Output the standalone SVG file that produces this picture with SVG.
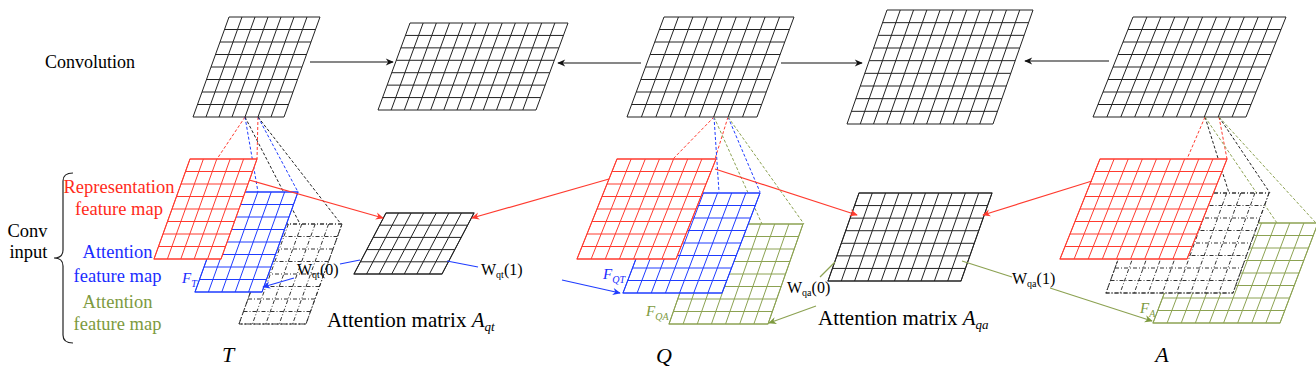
<svg xmlns="http://www.w3.org/2000/svg" xmlns:xlink="http://www.w3.org/1999/xlink" width="1316" height="377" viewBox="0 0 1316 377">
<style>
text{font-family:"Liberation Serif","Times New Roman",serif;fill:#000}
.gl{fill:none;stroke-width:1;vector-effect:non-scaling-stroke}
.k{stroke:#222}
.r{stroke:#ff3b2f}
.b{stroke:#1f3cff}
.g{stroke:#8ca252}
.dd{stroke:#333;stroke-dasharray:4 2 1 2}
.tr{fill:#ff2a1a}
.tb{fill:#1a2cff}
.tg{fill:#7d9a3e}
.it{font-style:italic}
.cn{fill:none;stroke-width:1.2}
.dash{fill:none;stroke-width:1;stroke-dasharray:3 2}
</style>
<defs>
<marker id="mk" viewBox="0 0 10 10" refX="9" refY="5" markerWidth="9" markerHeight="8" orient="auto" markerUnits="userSpaceOnUse"><path d="M0,0.5L10,5L0,9.5L3,5z" fill="#111"/></marker>
<marker id="mr" viewBox="0 0 10 10" refX="9" refY="5" markerWidth="9" markerHeight="8" orient="auto" markerUnits="userSpaceOnUse"><path d="M0,0.5L10,5L0,9.5L3,5z" fill="#ff3b2f"/></marker>
<marker id="mb" viewBox="0 0 10 10" refX="9" refY="5" markerWidth="9" markerHeight="8" orient="auto" markerUnits="userSpaceOnUse"><path d="M0,0.5L10,5L0,9.5L3,5z" fill="#1f3cff"/></marker>
<marker id="mg" viewBox="0 0 10 10" refX="9" refY="5" markerWidth="9" markerHeight="8" orient="auto" markerUnits="userSpaceOnUse"><path d="M0,0.5L10,5L0,9.5L3,5z" fill="#7d9a3e"/></marker>
<g id="gT"><rect width="67" height="100" fill="#fff"/><path class="gl" d="M0,0H67M0,12.5H67M0,25H67M0,37.5H67M0,50H67M0,62.5H67M0,75H67M0,87.5H67M0,100H67M0,0V100M13.4,0V100M26.8,0V100M40.2,0V100M53.6,0V100M67,0V100"/></g>
<g id="gQ"><rect width="99" height="100" fill="#fff"/><path class="gl" d="M0,0H99M0,12.5H99M0,25H99M0,37.5H99M0,50H99M0,62.5H99M0,75H99M0,87.5H99M0,100H99M0,0V100M14.14,0V100M28.29,0V100M42.43,0V100M56.57,0V100M70.71,0V100M84.86,0V100M99,0V100"/></g>
<g id="gA"><rect width="127" height="100" fill="#fff"/><path class="gl" d="M0,0H127M0,12.5H127M0,25H127M0,37.5H127M0,50H127M0,62.5H127M0,75H127M0,87.5H127M0,100H127M0,0V100M14.11,0V100M28.22,0V100M42.33,0V100M56.44,0V100M70.56,0V100M84.67,0V100M98.78,0V100M112.89,0V100M127,0V100"/></g>
</defs>
<rect width="1316" height="377" fill="#fff"/>

<text x="45" y="68" font-size="18">Convolution</text>

<g id="conv-T" class="k"><path class="gl" transform="matrix(1 0 -0.36 1 229 17)" d="M0,0H91M0,12.5H91M0,25H91M0,37.5H91M0,50H91M0,62.5H91M0,75H91M0,87.5H91M0,100H91M0,0V100M13,0V100M26,0V100M39,0V100M52,0V100M65,0V100M78,0V100M91,0V100"/></g>
<g id="conv-TQ" class="k"><path class="gl" transform="matrix(1 0 -0.3678 1 410 23)" d="M0,0H158M0,12.43H158M0,24.86H158M0,37.29H158M0,49.71H158M0,62.14H158M0,74.57H158M0,87H158M0,0V87M13.17,0V87M26.33,0V87M39.5,0V87M52.67,0V87M65.83,0V87M79,0V87M92.17,0V87M105.33,0V87M118.5,0V87M131.67,0V87M144.83,0V87M158,0V87"/></g>
<g id="conv-Q" class="k"><path class="gl" transform="matrix(1 0 -0.37 1 664 17)" d="M0,0H130M0,12.5H130M0,25H130M0,37.5H130M0,50H130M0,62.5H130M0,75H130M0,87.5H130M0,100H130M0,0V100M14.44,0V100M28.89,0V100M43.33,0V100M57.78,0V100M72.22,0V100M86.67,0V100M101.11,0V100M115.56,0V100M130,0V100"/></g>
<g id="conv-QA" class="k"><path class="gl" transform="matrix(1 0 -0.3509 1 887 10)" d="M0,0H146M0,12.67H146M0,25.33H146M0,38H146M0,50.67H146M0,63.33H146M0,76H146M0,88.67H146M0,101.33H146M0,114H146M0,0V114M13.27,0V114M26.55,0V114M39.82,0V114M53.09,0V114M66.36,0V114M79.64,0V114M92.91,0V114M106.18,0V114M119.45,0V114M132.73,0V114M146,0V114"/></g>
<g id="conv-A" class="k"><path class="gl" transform="matrix(1 0 -0.4 1 1133 17)" d="M0,0H153M0,12.5H153M0,25H153M0,37.5H153M0,50H153M0,62.5H153M0,75H153M0,87.5H153M0,100H153M0,0V100M13.91,0V100M27.82,0V100M41.73,0V100M55.64,0V100M69.55,0V100M83.45,0V100M97.36,0V100M111.27,0V100M125.18,0V100M139.09,0V100M153,0V100"/></g>

<g id="connectors">
<path class="cn" stroke="#111" marker-end="url(#mk)" d="M310,62H393"/>
<path class="cn" stroke="#111" marker-end="url(#mk)" d="M641,63H558"/>
<path class="cn" stroke="#111" marker-end="url(#mk)" d="M781,63H862"/>
<path class="cn" stroke="#111" marker-end="url(#mk)" d="M1109,61H1025"/>
<path class="dash r" d="M245,117L217,159M258,117L257,159"/>
<path class="dash b" d="M245,117L258,192M258,117L298,192"/>
<path class="dash k" d="M245,117L300,224M258,117L341,224"/>
<path class="dash r" d="M714,117L673,159M728,117L715,159"/>
<path class="dash b" d="M714,117L719,192M728,117L760,192"/>
<path class="dash g" d="M714,117L762,224M728,117L804,224"/>
<path class="dash r" d="M1205,117L1187,159M1219,117L1227,159"/>
<path class="dash k" d="M1205,117L1229,193M1219,117L1270,193"/>
<path class="dash g" d="M1205,117L1277,223M1219,117L1316,223"/>
</g>

<g id="map-T-att2"><use xlink:href="#gT" class="dd" transform="matrix(1 0 -0.36 1 275 224)"/></g>
<g id="map-T-att"><use xlink:href="#gT" class="b" transform="matrix(1 0 -0.36 1 231 192)"/></g>
<g id="map-T-rep"><use xlink:href="#gT" class="r" transform="matrix(1 0 -0.36 1 190 159)"/></g>

<g id="map-Q-att2"><use xlink:href="#gQ" class="g" transform="matrix(1 0 -0.35 1 704 224)"/></g>
<g id="map-Q-att"><use xlink:href="#gQ" class="b" transform="matrix(1 0 -0.38 1 661 193)"/></g>
<g id="map-Q-rep"><use xlink:href="#gQ" class="r" transform="matrix(1 0 -0.4 1 617 159)"/></g>

<g id="map-A-att2"><use xlink:href="#gA" class="g" transform="matrix(1 0 -0.38 1 1191 223)"/></g>
<g id="map-A-att"><use xlink:href="#gA" class="dd" transform="matrix(1 0 -0.36 1 1142 193)"/></g>
<g id="map-A-rep"><use xlink:href="#gA" class="r" transform="matrix(1 0 -0.4 1 1100 159)"/></g>

<g id="att-qt" class="k"><rect width="88" height="61" fill="#fff" transform="matrix(1 0 -0.5246 1 386 213)"/><path class="gl" transform="matrix(1 0 -0.5246 1 386 213)" d="M0,0H88M0,12.2H88M0,24.4H88M0,36.6H88M0,48.8H88M0,61H88M0,0V61M12.57,0V61M25.14,0V61M37.71,0V61M50.29,0V61M62.86,0V61M75.43,0V61M88,0V61"/></g>
<g id="att-qa" class="k"><rect width="133" height="88" fill="#fff" transform="matrix(1 0 -0.3523 1 859 193)"/><path class="gl" transform="matrix(1 0 -0.3523 1 859 193)" d="M0,0H133M0,12.57H133M0,25.14H133M0,37.71H133M0,50.29H133M0,62.86H133M0,75.43H133M0,88H133M0,0V88M13.3,0V88M26.6,0V88M39.9,0V88M53.2,0V88M66.5,0V88M79.8,0V88M93.1,0V88M106.4,0V88M119.7,0V88M133,0V88"/></g>

<g id="connectors-2">
<path class="cn" stroke="#ff3b2f" marker-end="url(#mr)" d="M249,180L383,218"/>
<path class="cn" stroke="#ff3b2f" marker-end="url(#mr)" d="M609,179L472,218"/>
<path class="cn" stroke="#ff3b2f" marker-end="url(#mr)" d="M715,169L857,215"/>
<path class="cn" stroke="#ff3b2f" marker-end="url(#mr)" d="M1092,181L983,215"/>
<path class="cn" stroke="#1f3cff" d="M360,260L340,264"/>
<path class="cn" stroke="#1f3cff" marker-end="url(#mb)" d="M294,278L263,287"/>
<path class="cn" stroke="#1f3cff" d="M447,261L478,267"/>
<path class="cn" stroke="#1f3cff" marker-end="url(#mb)" d="M562,280L620,293"/>
<path class="cn" stroke="#8ca252" d="M835,262L820,277"/>
<path class="cn" stroke="#8ca252" marker-end="url(#mg)" d="M816,306L769,323"/>
<path class="cn" stroke="#8ca252" d="M962,261L1012,277"/>
<path class="cn" stroke="#8ca252" marker-end="url(#mg)" d="M1050,288L1152,321"/>
</g>

<g id="labels">
<text x="119" y="193" font-size="18.5" text-anchor="middle" class="tr">Representation</text>
<text x="119" y="215" font-size="18.5" text-anchor="middle" class="tr">feature map</text>
<text x="117.5" y="258" font-size="18.5" text-anchor="middle" class="tb">Attention</text>
<text x="117.5" y="282" font-size="18.5" text-anchor="middle" class="tb">feature map</text>
<text x="117.5" y="308" font-size="18.5" text-anchor="middle" class="tg">Attention</text>
<text x="117.5" y="330" font-size="18.5" text-anchor="middle" class="tg">feature map</text>
<text x="27.5" y="237" font-size="18.5" text-anchor="middle">Conv</text>
<text x="28.5" y="258" font-size="18.5" text-anchor="middle">input</text>
<path d="M73,173Q63,173 63,181V250Q63,258 54,258Q63,258 63,266V335Q63,343 73,343" fill="none" stroke="#222" stroke-width="1.2"/>

<text x="297" y="275" font-size="16">W<tspan font-size="10" dy="3">qt</tspan><tspan dy="-3">(0)</tspan></text>
<text x="481" y="275" font-size="16">W<tspan font-size="10" dy="3">qt</tspan><tspan dy="-3">(1)</tspan></text>
<text x="787" y="293" font-size="16">W<tspan font-size="10" dy="3">qa</tspan><tspan dy="-3">(0)</tspan></text>
<text x="1012" y="284" font-size="16">W<tspan font-size="10" dy="3">qa</tspan><tspan dy="-3">(1)</tspan></text>

<text x="327" y="327" font-size="21">Attention matrix <tspan class="it">A</tspan><tspan class="it" font-size="13" dy="4">qt</tspan></text>
<text x="818" y="325" font-size="21">Attention matrix <tspan class="it">A</tspan><tspan class="it" font-size="13" dy="4">qa</tspan></text>

<text x="182" y="283" font-size="15" class="tb it">F<tspan font-size="10" dy="4">T</tspan></text>
<text x="603" y="279" font-size="15" class="tb it">F<tspan font-size="10" dy="4">QT</tspan></text>
<text x="646" y="316" font-size="15" class="tg it">F<tspan font-size="10" dy="4">QA</tspan></text>
<text x="1140" y="313" font-size="15" class="tg it">F<tspan font-size="10" dy="4">A</tspan></text>

<text x="228" y="362" font-size="22" text-anchor="middle" class="it">T</text>
<text x="664" y="363" font-size="22" text-anchor="middle" class="it">Q</text>
<text x="1162" y="362" font-size="22" text-anchor="middle" class="it">A</text>
</g>
</svg>
